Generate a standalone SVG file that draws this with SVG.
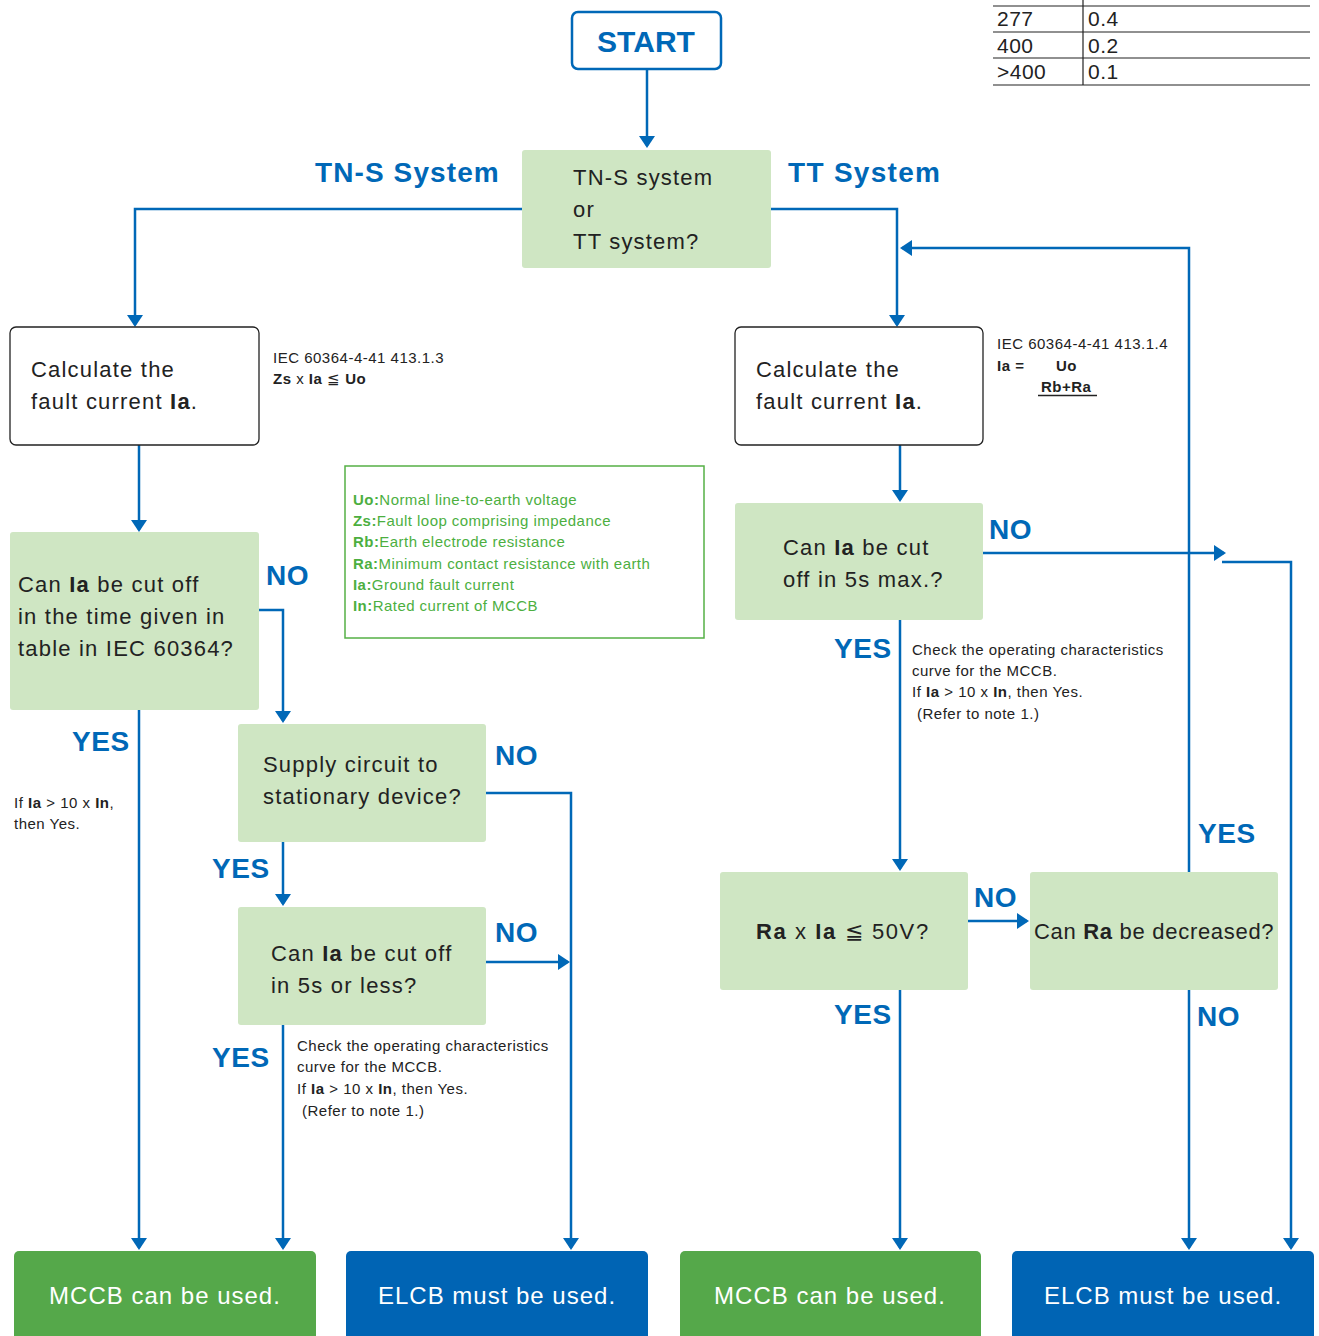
<svg xmlns="http://www.w3.org/2000/svg" width="1319" height="1336" viewBox="0 0 1319 1336">
<defs>
<marker id="ah" viewBox="0 0 12 16" markerWidth="12" markerHeight="16" refX="10" refY="8" orient="auto" markerUnits="userSpaceOnUse">
<path d="M0,0 L12,8 L0,16 z" fill="#0068b7"/>
</marker>
<style>
text{font-family:"Liberation Sans",Arial,Helvetica,sans-serif;}
.dec{fill:#cfe6c3;}
.calc{fill:#fff;stroke:#222;stroke-width:1.3;}
.t{font-size:22px;fill:#222;letter-spacing:1.2px;}
.lbl{font-size:28px;font-weight:bold;fill:#0068b7;letter-spacing:0.6px;}
.note{font-size:15px;fill:#222;letter-spacing:0.5px;}
.leg{font-size:15px;fill:#4caf3f;letter-spacing:0.45px;}
.b{font-weight:bold;}
.fin{font-size:24px;fill:#fff;letter-spacing:1px;text-anchor:middle;}
.con{fill:none;stroke:#0068b7;stroke-width:2.5;}
.tab{font-size:21px;fill:#222;letter-spacing:0.5px;}
</style>
</defs>

<g id="table">
<line x1="993" y1="6" x2="1310" y2="6" stroke="#222" stroke-width="1.2"/>
<line x1="993" y1="32" x2="1310" y2="32" stroke="#222" stroke-width="1.2"/>
<line x1="993" y1="58" x2="1310" y2="58" stroke="#222" stroke-width="1.2"/>
<line x1="993" y1="85" x2="1310" y2="85" stroke="#222" stroke-width="1.2"/>
<line x1="1083" y1="0" x2="1083" y2="85" stroke="#222" stroke-width="1.2"/>
<text class="tab" x="997" y="26">277</text><text class="tab" x="1088" y="26">0.4</text>
<text class="tab" x="997" y="53">400</text><text class="tab" x="1088" y="53">0.2</text>
<text class="tab" x="997" y="79">&gt;400</text><text class="tab" x="1088" y="79">0.1</text>
</g>

<g id="connectors">
<path class="con" d="M647,69 V146" marker-end="url(#ah)"/>
<path class="con" d="M522,209 H135 V325" marker-end="url(#ah)"/>
<path class="con" d="M771,209 H897 V325" marker-end="url(#ah)"/>
<path class="con" d="M1189,872 V248 H902" marker-end="url(#ah)"/>
<path class="con" d="M139,445 V530" marker-end="url(#ah)"/>
<path class="con" d="M259,610 H283 V721" marker-end="url(#ah)"/>
<path class="con" d="M139,710 V1248" marker-end="url(#ah)"/>
<path class="con" d="M486,793 H571 V1248" marker-end="url(#ah)"/>
<path class="con" d="M283,842 V904" marker-end="url(#ah)"/>
<path class="con" d="M486,962 H568" marker-end="url(#ah)"/>
<path class="con" d="M283,1025 V1248" marker-end="url(#ah)"/>
<path class="con" d="M900,445 V500" marker-end="url(#ah)"/>
<path class="con" d="M983,553 H1224" marker-end="url(#ah)"/>
<path class="con" d="M1222,562 H1291 V1248" marker-end="url(#ah)"/>
<path class="con" d="M900,620 V869" marker-end="url(#ah)"/>
<path class="con" d="M968,921 H1027" marker-end="url(#ah)"/>
<path class="con" d="M900,990 V1248" marker-end="url(#ah)"/>
<path class="con" d="M1189,990 V1248" marker-end="url(#ah)"/>
</g>

<g id="start">
<rect x="572" y="12" width="149" height="57" rx="6" fill="#fff" stroke="#0068b7" stroke-width="2.5"/>
<text x="646" y="52" text-anchor="middle" style="font-size:30px;font-weight:bold;fill:#0068b7">START</text>
</g>

<g id="system-decision">
<rect class="dec" x="522" y="150" width="249" height="118" rx="3"/>
<text class="t" x="573" y="185">TN-S system</text>
<text class="t" x="573" y="217">or</text>
<text class="t" x="573" y="249">TT system?</text>
</g>

<g id="labels">
<text class="lbl" x="315" y="182" style="letter-spacing:1.1px">TN-S System</text>
<text class="lbl" x="788" y="182" style="letter-spacing:1.3px">TT System</text>
<text class="lbl" x="266" y="585">NO</text>
<text class="lbl" x="72" y="751">YES</text>
<text class="lbl" x="495" y="765">NO</text>
<text class="lbl" x="212" y="878">YES</text>
<text class="lbl" x="495" y="942">NO</text>
<text class="lbl" x="212" y="1067">YES</text>
<text class="lbl" x="989" y="539">NO</text>
<text class="lbl" x="834" y="658">YES</text>
<text class="lbl" x="974" y="907">NO</text>
<text class="lbl" x="1198" y="843">YES</text>
<text class="lbl" x="834" y="1024">YES</text>
<text class="lbl" x="1197" y="1026">NO</text>
</g>

<g id="calc-tns">
<rect class="calc" x="10" y="327" width="249" height="118" rx="6"/>
<text class="t" x="31" y="377">Calculate the</text>
<text class="t" x="31" y="409">fault current <tspan class="b">Ia</tspan>.</text>
</g>

<g id="note-tns">
<text class="note" x="273" y="363">IEC 60364-4-41 413.1.3</text>
<text class="note" x="273" y="384"><tspan class="b">Zs</tspan> x <tspan class="b">Ia</tspan> ≦ <tspan class="b">Uo</tspan></text>
</g>

<g id="calc-tt">
<rect class="calc" x="735" y="327" width="248" height="118" rx="6"/>
<text class="t" x="756" y="377">Calculate the</text>
<text class="t" x="756" y="409">fault current <tspan class="b">Ia</tspan>.</text>
</g>

<g id="note-tt">
<text class="note" x="997" y="349">IEC 60364-4-41 413.1.4</text>
<text class="note b" x="997" y="371">Ia =</text>
<text class="note b" x="1056" y="371">Uo</text>
<text class="note b" x="1041" y="392">Rb+Ra</text>
<line x1="1038" y1="395.5" x2="1097" y2="395.5" stroke="#222" stroke-width="1.3"/>
</g>

<g id="legend">
<rect x="345" y="466" width="359" height="172" fill="none" stroke="#55b046" stroke-width="1.5"/>
<text class="leg" x="353" y="505"><tspan class="b">Uo:</tspan>Normal line-to-earth voltage</text>
<text class="leg" x="353" y="526"><tspan class="b">Zs:</tspan>Fault loop comprising impedance</text>
<text class="leg" x="353" y="547"><tspan class="b">Rb:</tspan>Earth electrode resistance</text>
<text class="leg" x="353" y="569"><tspan class="b">Ra:</tspan>Minimum contact resistance with earth</text>
<text class="leg" x="353" y="590"><tspan class="b">Ia:</tspan>Ground fault current</text>
<text class="leg" x="353" y="611"><tspan class="b">In:</tspan>Rated current of MCCB</text>
</g>

<g id="cut-table">
<rect class="dec" x="10" y="532" width="249" height="178" rx="3"/>
<text class="t" x="18" y="592">Can <tspan class="b">Ia</tspan> be cut off</text>
<text class="t" x="18" y="624">in the time given in</text>
<text class="t" x="18" y="656">table in IEC 60364?</text>
</g>

<g id="note-left">
<text class="note" x="14" y="808">If <tspan class="b">Ia</tspan> &gt; 10 x <tspan class="b">In</tspan>,</text>
<text class="note" x="14" y="829">then Yes.</text>
</g>

<g id="supply">
<rect class="dec" x="238" y="724" width="248" height="118" rx="3"/>
<text class="t" x="263" y="772">Supply circuit to</text>
<text class="t" x="263" y="804">stationary device?</text>
</g>

<g id="cut-5s-less">
<rect class="dec" x="238" y="907" width="248" height="118" rx="3"/>
<text class="t" x="271" y="961">Can <tspan class="b">Ia</tspan> be cut off</text>
<text class="t" x="271" y="993">in 5s or less?</text>
</g>

<g id="note-check-left">
<text class="note" x="297" y="1051">Check the operating characteristics</text>
<text class="note" x="297" y="1072">curve for the MCCB.</text>
<text class="note" x="297" y="1094">If <tspan class="b">Ia</tspan> &gt; 10 x <tspan class="b">In</tspan>, then Yes.</text>
<text class="note" x="302" y="1116">(Refer to note 1.)</text>
</g>

<g id="cut-5s-max">
<rect class="dec" x="735" y="503" width="248" height="117" rx="3"/>
<text class="t" x="783" y="555">Can <tspan class="b">Ia</tspan> be cut</text>
<text class="t" x="783" y="587">off in 5s max.?</text>
</g>

<g id="note-check-right">
<text class="note" x="912" y="655">Check the operating characteristics</text>
<text class="note" x="912" y="676">curve for the MCCB.</text>
<text class="note" x="912" y="697">If <tspan class="b">Ia</tspan> &gt; 10 x <tspan class="b">In</tspan>, then Yes.</text>
<text class="note" x="917" y="719">(Refer to note 1.)</text>
</g>

<g id="ra-ia">
<rect class="dec" x="720" y="872" width="248" height="118" rx="3"/>
<text class="t" x="756" y="939" style="letter-spacing:1.6px"><tspan class="b">Ra</tspan> x <tspan class="b">Ia</tspan> ≦ 50V?</text>
</g>

<g id="ra-decrease">
<rect class="dec" x="1030" y="872" width="248" height="118" rx="3"/>
<text class="t" x="1034" y="939" style="letter-spacing:0.7px">Can <tspan class="b">Ra</tspan> be decreased?</text>
</g>

<g id="mccb-1">
<rect x="14" y="1251" width="302" height="100" rx="5" fill="#55a84a"/>
<text class="fin" x="165" y="1304">MCCB can be used.</text>
</g>
<g id="elcb-1">
<rect x="346" y="1251" width="302" height="100" rx="5" fill="#0064b4"/>
<text class="fin" x="497" y="1304">ELCB must be used.</text>
</g>
<g id="mccb-2">
<rect x="680" y="1251" width="301" height="100" rx="5" fill="#55a84a"/>
<text class="fin" x="830" y="1304">MCCB can be used.</text>
</g>
<g id="elcb-2">
<rect x="1012" y="1251" width="302" height="100" rx="5" fill="#0064b4"/>
<text class="fin" x="1163" y="1304">ELCB must be used.</text>
</g>
</svg>
